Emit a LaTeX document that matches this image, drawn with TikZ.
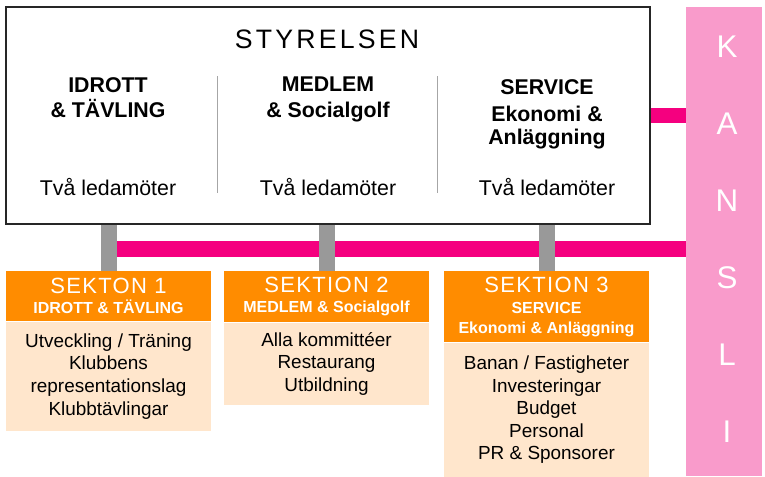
\documentclass[tikz,border=0pt]{standalone}
\usepackage{fontspec}
\setmainfont{Liberation Sans}
\newfontfamily\spaced[LetterSpace=12]{Liberation Sans}
\newfontfamily\sekfont[LetterSpace=6]{Liberation Sans}
\usetikzlibrary{positioning}
\definecolor{sekorange}{HTML}{FF8C00}
\definecolor{sekpeach}{HTML}{FFE6CC}
\definecolor{kanslipink}{HTML}{F99BCB}
\definecolor{barpink}{HTML}{F5007F}
\definecolor{bargray}{HTML}{999999}

\begin{document}
\begin{tikzpicture}[x=0.75pt,y=-0.75pt,
	head/.style={fill=sekorange,text=white,align=center,anchor=north,minimum width=153.75pt,inner sep=0pt,font=\bfseries\fontsize{12}{15}\selectfont},
	body/.style={fill=sekpeach,align=center,minimum width=153.75pt,inner sep=0pt,font=\fontsize{14.2}{16.9}\selectfont},
	colhead/.style={align=center,anchor=north,inner sep=0pt,font=\bfseries\fontsize{16}{19.3}\selectfont},
	members/.style={anchor=base,inner sep=0pt,font=\fontsize{16}{19}\selectfont},
	kletter/.style={anchor=base,text=white,inner sep=0pt,font=\fontsize{23.5}{28}\selectfont},
	graybar/.style={draw=bargray,line width=12pt},
	pinkbar/.style={draw=barpink,line width=11.5pt}]
	\useasboundingbox (0,0) rectangle (765,476);
	% styrelsen and kansli
	\node[draw=black!85,line width=0.9pt,minimum width=483pt,minimum height=162.75pt,inner sep=0pt] (board) at (328,115.5) {};
	\node[fill=kanslipink,anchor=north,minimum width=57pt,minimum height=351.75pt,inner sep=0pt] (kansli) at (724,7) {};
	\foreach \c [count=\i from 0] in {K,A,N,S,L,I}
		\node[kletter] (k\i) at (727,{57+77*\i}) {\c};
	\node[anchor=base,inner sep=0pt,font=\spaced\fontsize{20}{24}\selectfont] (title) at (327,48) {STYRELSEN};
	\draw[black!35,line width=0.75pt] (217,76) -- (217,193);
	\draw[black!35,line width=0.75pt] (437,76) -- (437,193);
	\node[colhead] (col1) at (108,77) {IDROTT\\\& TÄVLING};
	\node[colhead] (col2) at (328,77) {MEDLEM\\\& Socialgolf};
	\node[colhead] (col3) at (547,79) {SERVICE\\[1.5pt]Ekonomi \&\\[-2pt]Anläggning};
	\node[members] (mem1) at (108,195) {Två ledamöter};
	\node[members] (mem2) at (328,195) {Två ledamöter};
	\node[members] (mem3) at (547,195) {Två ledamöter};
	% sektioner
	\node[head,minimum height=37.5pt] (head1) at (108.5,271) {{\mdseries\sekfont\fontsize{16.5}{18}\selectfont SEKTON 1}\\IDROTT \& TÄVLING};
	\node[body,minimum height=81.75pt,below=0pt of head1] (body1) {Utveckling / Träning\\Klubbens\\representationslag\\Klubbtävlingar};
	\node[head,minimum height=38.25pt] (head2) at (326.5,271) {{\mdseries\sekfont\fontsize{16.5}{18}\selectfont SEKTION 2}\\MEDLEM \& Socialgolf};
	\node[body,minimum height=61.5pt,below=0pt of head2] (body2) {Alla kommittéer\\Restaurang\\Utbildning};
	\node[head,minimum height=53.25pt] (head3) at (546.5,271) {{\mdseries\sekfont\fontsize{16.5}{18}\selectfont SEKTION 3}\\[1pt]SERVICE\\Ekonomi \& Anläggning};
	\node[body,minimum height=100.5pt,below=0pt of head3] (body3) {Banan / Fastigheter\\Investeringar\\Budget\\Personal\\PR \& Sponsorer};
	% connectors
	\coordinate (tap) at (108.5,249);
	\draw[pinkbar] (tap) -- (tap -| kansli.west);
	\draw[pinkbar] (board.east) -- (board.east -| kansli.west);
	\foreach \s in {1,2,3}
		\draw[graybar] (head\s.north) -- (head\s.north |- board.south);
\end{tikzpicture}
\end{document}
